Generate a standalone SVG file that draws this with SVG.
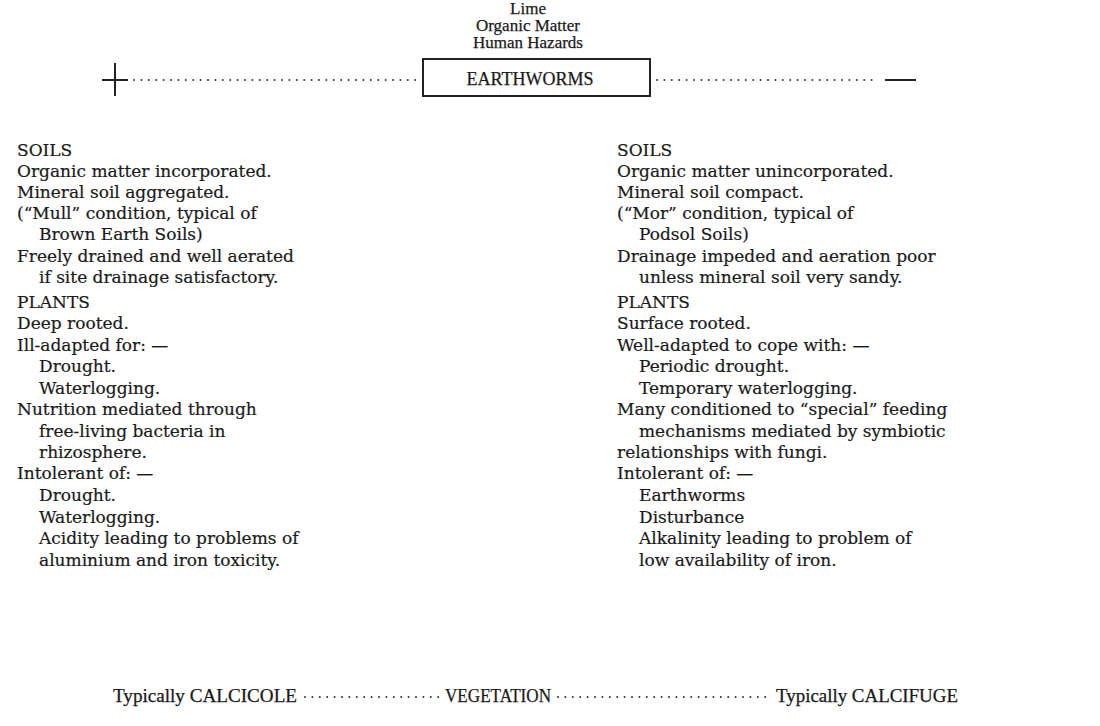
<svg xmlns="http://www.w3.org/2000/svg" width="1100" height="726" viewBox="0 0 1100 726">
<style>
.t{font-family:"Liberation Serif","Times New Roman",serif;font-size:17px;fill:#1a1a1a;stroke:#1a1a1a;stroke-width:0.25}
.b{font-family:"DejaVu Serif","Liberation Serif",serif;font-size:17px;fill:#1a1a1a;stroke:#1a1a1a;stroke-width:0.2}
.dot{stroke:#333;stroke-width:2;stroke-linecap:round;stroke-dasharray:0 7.4;fill:none}
.sym{stroke:#222;stroke-width:2;fill:none}
</style>
<rect width="1100" height="726" fill="#fff"/>
<g id="factors">
<text class="t" x="528" y="14" text-anchor="middle">Lime</text>
<text class="t" x="528" y="31" text-anchor="middle">Organic Matter</text>
<text class="t" x="528" y="48" text-anchor="middle">Human Hazards</text>
</g>
<g id="earthworms">
<rect x="423" y="59" width="227" height="37" fill="none" stroke="#222" stroke-width="2"/>
<text class="t" x="530" y="85" text-anchor="middle" style="font-size:18px">EARTHWORMS</text>
</g>
<g id="plus">
<path class="sym" d="M102 80 H128 M115 63 V96"/>
</g>
<g id="minus">
<path class="sym" d="M885 80 H916"/>
</g>
<g id="connectors">
<line class="dot" x1="134" y1="80" x2="416" y2="80"/>
<line class="dot" x1="657" y1="80" x2="876" y2="80"/>
<line class="dot" x1="305" y1="697" x2="440" y2="697"/>
<line class="dot" x1="558" y1="697" x2="768" y2="697"/>
</g>
<g id="left-column" class="b">
<text x="17" y="156">SOILS</text>
<text x="17" y="177">Organic matter incorporated.</text>
<text x="17" y="198">Mineral soil aggregated.</text>
<text x="17" y="219">(“Mull” condition, typical of</text>
<text x="39" y="240">Brown Earth Soils)</text>
<text x="17" y="262">Freely drained and well aerated</text>
<text x="39" y="283">if site drainage satisfactory.</text>
<text x="17" y="308">PLANTS</text>
<text x="17" y="329">Deep rooted.</text>
<text x="17" y="351">Ill-adapted for: —</text>
<text x="39" y="372">Drought.</text>
<text x="39" y="394">Waterlogging.</text>
<text x="17" y="415">Nutrition mediated through</text>
<text x="39" y="437">free-living bacteria in</text>
<text x="39" y="458">rhizosphere.</text>
<text x="17" y="479">Intolerant of: —</text>
<text x="39" y="501">Drought.</text>
<text x="39" y="523">Waterlogging.</text>
<text x="39" y="544">Acidity leading to problems of</text>
<text x="39" y="566">aluminium and iron toxicity.</text>
</g>
<g id="right-column" class="b">
<text x="617" y="156">SOILS</text>
<text x="617" y="177">Organic matter unincorporated.</text>
<text x="617" y="198">Mineral soil compact.</text>
<text x="617" y="219">(“Mor” condition, typical of</text>
<text x="639" y="240">Podsol Soils)</text>
<text x="617" y="262">Drainage impeded and aeration poor</text>
<text x="639" y="283">unless mineral soil very sandy.</text>
<text x="617" y="308">PLANTS</text>
<text x="617" y="329">Surface rooted.</text>
<text x="617" y="351">Well-adapted to cope with: —</text>
<text x="639" y="372">Periodic drought.</text>
<text x="639" y="394">Temporary waterlogging.</text>
<text x="617" y="415">Many conditioned to “special” feeding</text>
<text x="639" y="437">mechanisms mediated by symbiotic</text>
<text x="617" y="458">relationships with fungi.</text>
<text x="617" y="479">Intolerant of: —</text>
<text x="639" y="501">Earthworms</text>
<text x="639" y="523">Disturbance</text>
<text x="639" y="544">Alkalinity leading to problem of</text>
<text x="639" y="566">low availability of iron.</text>
</g>
<g id="vegetation">
<text class="t" x="113" y="702" textLength="184" lengthAdjust="spacingAndGlyphs" style="font-size:18px">Typically CALCICOLE</text>
<text class="t" x="445" y="702" textLength="106" lengthAdjust="spacingAndGlyphs" style="font-size:18px">VEGETATION</text>
<text class="t" x="776" y="702" textLength="182" lengthAdjust="spacingAndGlyphs" style="font-size:18px">Typically CALCIFUGE</text>
</g>
</svg>
